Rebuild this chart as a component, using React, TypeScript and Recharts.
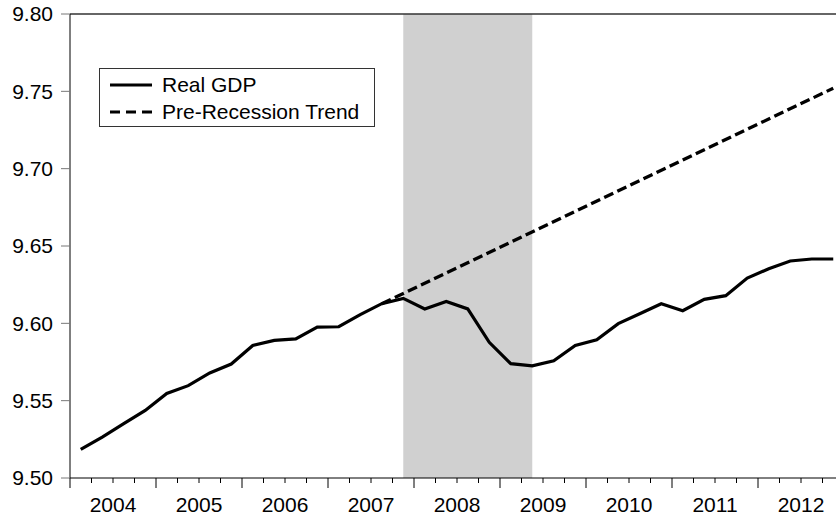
import React from 'react';
import { ComposedChart, Line, XAxis, YAxis, ReferenceArea, ReferenceLine, Legend } from 'recharts';

const quarters = [
  '2004Q1', '2004Q2', '2004Q3', '2004Q4',
  '2005Q1', '2005Q2', '2005Q3', '2005Q4',
  '2006Q1', '2006Q2', '2006Q3', '2006Q4',
  '2007Q1', '2007Q2', '2007Q3', '2007Q4',
  '2008Q1', '2008Q2', '2008Q3', '2008Q4',
  '2009Q1', '2009Q2', '2009Q3', '2009Q4',
  '2010Q1', '2010Q2', '2010Q3', '2010Q4',
  '2011Q1', '2011Q2', '2011Q3', '2011Q4',
  '2012Q1', '2012Q2', '2012Q3', '2012Q4',
];

const years = ['2004', '2005', '2006', '2007', '2008', '2009', '2010', '2011', '2012'];

const realGdp = [
  9.5185, 9.5265, 9.5351, 9.5437,
  9.5547, 9.5597, 9.5679, 9.5737,
  9.5857, 9.589, 9.5899, 9.5975,
  9.5978, 9.6056, 9.6127, 9.6161,
  9.6093, 9.6142, 9.6093, 9.5877,
  9.5739, 9.5725, 9.5758, 9.5857,
  9.5894, 9.5998, 9.6062, 9.6127,
  9.6082, 9.6155, 9.6179, 9.6293,
  9.6353, 9.6403, 9.6416, 9.6416,
];

// straight trend line: only its two end points are given
const preRecessionTrend: (number | null)[] = [
  null, null, null, null,
  null, null, null, null,
  null, null, null, null,
  null, null, 9.6127, null,
  null, null, null, null,
  null, null, null, null,
  null, null, null, null,
  null, null, null, null,
  null, null, null, 9.752,
];

const recessionStart = '2007Q4';
const recessionEnd = '2009Q2';

const yTicks = [9.5, 9.55, 9.6, 9.65, 9.7, 9.75, 9.8];

const FONT = 'Arial, "Liberation Sans", Helvetica, sans-serif';

const data = quarters.map((q, i) => ({
  quarter: q,
  pos: i + 0.5,
  gdp: realGdp[i],
  trend: preRecessionTrend[i],
}));

const posOf = (q: string) => quarters.indexOf(q) + 0.5;

const boundaryTicks = Array.from({ length: quarters.length + 1 }, (_, i) => i);

const XTick = (props: any) => {
  const { x, y, payload } = props;
  const v = payload.value as number;
  const major = v % 4 === 0;
  const showLabel = v % 4 === 2;
  const year = years[Math.floor(v / 4)];
  return (
    <g>
      <line x1={x} x2={x} y1={y} y2={y + (major ? 10 : 5)} stroke="#000" strokeWidth={1} />
      {showLabel && year && (
        <text x={x} y={y + 34} textAnchor="middle" fontSize={21} fontFamily={FONT} fill="#000">
          {year}
        </text>
      )}
    </g>
  );
};

const LegendBox = (props: any) => {
  const payload = props.payload || [];
  const styles: Record<string, string | undefined> = {
    gdp: undefined,
    trend: '10 6',
  };
  return (
    <div
      style={{
        width: 276,
        height: 59,
        boxSizing: 'border-box',
        border: '1px solid #333',
        background: '#fff',
        fontFamily: FONT,
        fontSize: 21,
        color: '#000',
        position: 'relative',
      }}
    >
      {payload.map((entry: any, i: number) => (
        <div
          key={entry.value}
          style={{
            position: 'absolute',
            left: 10,
            top: 2 + i * 27.4,
            height: 27,
            display: 'flex',
            alignItems: 'center',
            whiteSpace: 'nowrap',
          }}
        >
          <svg width={42} height={6} style={{ marginRight: 10 }}>
            <line
              x1={0}
              x2={42}
              y1={3}
              y2={3}
              stroke="#000"
              strokeWidth={3}
              strokeDasharray={styles[entry.dataKey]}
            />
          </svg>
          <span style={{ lineHeight: 1 }}>{entry.value}</span>
        </div>
      ))}
    </div>
  );
};

export default function App() {
  return (
    <div style={{ position: 'fixed', left: 0, top: 0, width: 836, height: 516, overflow: 'hidden', background: '#fff' }}>
      <ComposedChart width={844} height={516} data={data} margin={{ top: 14, right: 0, bottom: 0, left: 0 }}>
        <ReferenceArea
          x1={posOf(recessionStart)}
          x2={posOf(recessionEnd)}
          y1={9.5}
          y2={9.8}
          fill="#d0d0d0"
          fillOpacity={1}
          stroke="none"
          ifOverflow="hidden"
        />
        <XAxis
          dataKey="pos"
          type="number"
          domain={[0, quarters.length]}
          ticks={boundaryTicks}
          interval={0}
          height={38}
          tickSize={0}
          tickMargin={0}
          tickLine={false}
          axisLine={{ stroke: '#000', strokeWidth: 1 }}
          tick={<XTick />}
          allowDataOverflow
        />
        <YAxis
          type="number"
          domain={[9.5, 9.8]}
          ticks={yTicks}
          interval={0}
          width={70}
          tickSize={9}
          tickMargin={8}
          tickFormatter={(v: number) => v.toFixed(2)}
          tick={{ fill: '#000', fontSize: 21, fontFamily: FONT }}
          tickLine={{ stroke: '#777' }}
          axisLine={{ stroke: '#000', strokeWidth: 1 }}
          allowDataOverflow
        />
        <ReferenceLine y={9.8} stroke="#333" strokeWidth={1.5} />
        <Line
          type="linear"
          dataKey="trend"
          name="Pre-Recession Trend"
          stroke="#000"
          strokeWidth={3.3}
          strokeDasharray="10 4.5"
          dot={false}
          activeDot={false}
          connectNulls
          isAnimationActive={false}
        />
        <Line
          type="linear"
          dataKey="gdp"
          name="Real GDP"
          stroke="#000"
          strokeWidth={3.2}
          dot={false}
          activeDot={false}
          isAnimationActive={false}
        />
        <Legend
          layout="horizontal"
          verticalAlign="middle"
          align="center"
          content={<LegendBox />}
          itemSorter={(e: any) => (e.dataKey === 'gdp' ? 0 : 1)}
          wrapperStyle={{ position: 'absolute', left: 99, top: 68, width: 276, height: 59 }}
        />
      </ComposedChart>
    </div>
  );
}
